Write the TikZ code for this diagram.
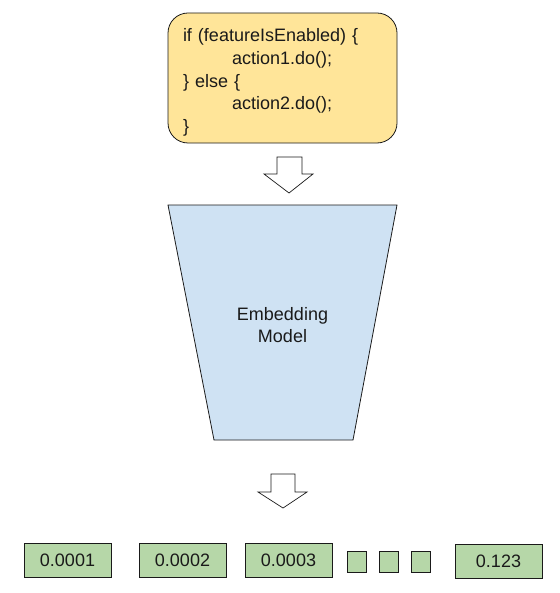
\documentclass[tikz,border=0pt]{standalone}
\usepackage{fontspec}
\setmainfont{Liberation Sans}
\definecolor{codefill}{HTML}{FFE599}
\definecolor{modelfill}{HTML}{CFE2F3}
\definecolor{vecfill}{HTML}{B6D7A8}
\definecolor{ink}{HTML}{1A1A1A}
\begin{document}
\begin{tikzpicture}[x=1bp,y=-1bp,
  every node/.style={font=\fontsize{18bp}{22.8bp}\selectfont, text=ink},
  codebox/.style={draw=ink, line width=0.8pt, fill=codefill, rounded corners=20bp,
    minimum width=229bp, minimum height=130bp, inner sep=0pt},
  codetext/.style={inner sep=0pt, text width=199bp, align=left},
  modelshape/.style={draw=ink, line width=0.8pt, fill=modelfill},
  blockarrow/.style={draw=ink, line width=0.7pt, fill=white},
  vecbox/.style={draw=ink, line width=0.8pt, fill=vecfill, minimum width=87bp, minimum height=34bp, inner sep=0pt},
  dotbox/.style={draw=ink, line width=0.8pt, fill=vecfill, minimum width=19bp, minimum height=21bp, inner sep=0pt}
]
\useasboundingbox (0,0) rectangle (560,593);
\node[codebox] (code) at (282.5,78) {};
\node[codetext] (codetxt) at (282.5,82.5) {if (featureIsEnabled) \{\\\hspace*{49bp}action1.do();\\\} else \{\\\hspace*{49bp}action2.do();\\\}};
% arrow 1
\draw[blockarrow] (277,157) -- (302,157) -- (302,174) -- (313,174) -- (289,193) -- (264,174) -- (277,174) -- cycle;
% model
\draw[modelshape] (168,205) coordinate (mtl) -- (397,205) coordinate (mtr) -- (353,440) coordinate (mbr) -- (214,440) coordinate (mbl) -- cycle;
\node[align=center] (model) at (282.5,325) {Embedding\\Model};
% arrow 2
\draw[blockarrow] (271,474) -- (295,474) -- (295,492) -- (307,492) -- (283,508) -- (258,492) -- (271,492) -- cycle;
% vector
\node[vecbox] (v1) at (67.5,560) {0.0001};
\node[vecbox] (v2) at (182.5,560) {0.0002};
\node[vecbox] (v3) at (288.5,560) {0.0003};
\node[dotbox] (d1) at (356.5,561.5) {};
\node[dotbox] (d2) at (388.5,561.5) {};
\node[dotbox] (d3) at (421,561.5) {};
\node[vecbox] (vn) at (498.5,561) {0.123};
\end{tikzpicture}
\end{document}
